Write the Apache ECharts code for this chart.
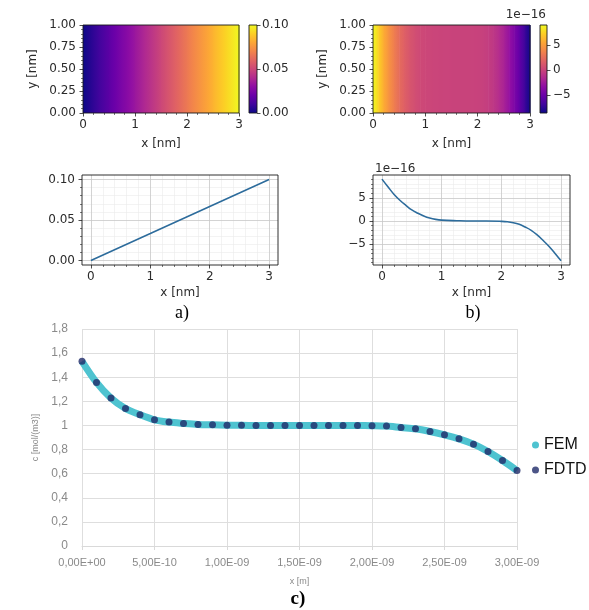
<!DOCTYPE html>
<html><head><meta charset="utf-8">
<script src="https://cdn.jsdelivr.net/npm/echarts@6/dist/echarts.min.js"></script>
<style>html,body{margin:0;padding:0;background:#fff}#c{width:589px;height:610px}</style>
</head><body><div id="c"></div>
<script>
// ---------- DATA ----------
// panel a: profile along x [nm]
const lineAX = [0, 0.5, 1, 1.5, 2, 2.5, 3];
const lineAY = [0, 0.0167, 0.0333, 0.05, 0.0667, 0.0833, 0.1];
// panel b: profile along x [nm], values in units of 1e-16
const lineBX = [0,0.1,0.2,0.3,0.4,0.5,0.6,0.7,0.8,0.9,1.0,1.25,1.5,1.75,2.0,2.1,2.2,2.3,2.4,2.5,2.6,2.7,2.8,2.9,3.0];
const lineBY = [9.06,7.4,5.8,4.5,3.4,2.4,1.7,1.1,0.65,0.36,0.2,0.07,0,0,-0.07,-0.15,-0.36,-0.72,-1.3,-2.0,-3.0,-4.2,-5.5,-7.0,-8.6];
// panel c: x in nm (axis labelled in m), concentration
const cXnm = [0,0.1,0.2,0.3,0.4,0.5,0.6,0.7,0.8,0.9,1.0,1.1,1.2,1.3,1.4,1.5,1.6,1.7,1.8,1.9,2.0,2.1,2.2,2.3,2.4,2.5,2.6,2.7,2.8,2.9,3.0];
const femC  = [1.532,1.357,1.227,1.141,1.089,1.047,1.028,1.017,1.008,1.005,1.002,1.001,1.0,1.0,1.0,1.0,1.0,1.0,1.0,0.999,0.998,0.995,0.983,0.972,0.950,0.922,0.889,0.845,0.784,0.709,0.626];
const fdtdC = [1.532,1.357,1.227,1.141,1.089,1.047,1.028,1.017,1.008,1.005,1.002,1.001,1.0,1.0,1.0,1.0,1.0,1.0,1.0,0.999,0.998,0.995,0.983,0.972,0.950,0.922,0.889,0.845,0.784,0.709,0.626];
const heatYExtent = [0, 1];
// tick values
const nmTicks = [0, 1, 2, 3];
const heatYTicks = [0, 0.25, 0.5, 0.75, 1];
const cbATicks = [0, 0.05, 0.1];
const cbBTicks = [-5, 0, 5];
const lineATicksY = [0, 0.05, 0.1];
const lineBTicksY = [-5, 0, 5];
const cXTicksNm = [0, 0.5, 1, 1.5, 2, 2.5, 3];
const cYTicks = [0, 0.2, 0.4, 0.6, 0.8, 1, 1.2, 1.4, 1.6, 1.8];

// ---------- helpers ----------
const PLASMA = ['#0d0887','#41049d','#6a00a8','#8f0da4','#b12a90','#cc4778','#e16462','#f2844b','#fca636','#fcce25','#f0f921'];
function hex2rgb(h){return [parseInt(h.substr(1,2),16),parseInt(h.substr(3,2),16),parseInt(h.substr(5,2),16)];}
const PL = PLASMA.map(hex2rgb);
function plasma(t){
  t = Math.max(0, Math.min(1, t));
  const f = t*(PL.length-1), i = Math.min(PL.length-2, Math.floor(f)), r = f-i;
  const c = PL[i].map((v,k)=>Math.round(v+(PL[i+1][k]-v)*r));
  return 'rgb('+c.join(',')+')';
}
const minus = s => String(s).replace('-', '\u2212');
function range(a, b, step){ const out=[]; for(let v=a; v<=b+1e-9; v+=step) out.push(Math.round(v*1e6)/1e6); return out; }
function excelExp(m){
  if (m === 0) return '0,00E+00';
  let e = Math.floor(Math.log10(Math.abs(m))); let mant = m/Math.pow(10,e);
  if (Math.round(mant*100)/100 >= 10){ mant/=10; e+=1; }
  if (Math.round(mant*100)/100 < 1){ mant*=10; e-=1; }
  return mant.toFixed(2).replace('.',',') + 'E' + (e<0?'-':'+') + String(Math.abs(e)).padStart(2,'0');
}

const FONT = 'DejaVu Sans';
const TXT = '#2b2b2b';
const tickStyle = {color:'#222', width:0.8};
function mplAxis(o){
  return Object.assign({
    type:'value', z:5,
    axisLine:{show:false, onZero:false}, splitLine:{show:false},
    axisTick:{show:true, inside:false, length:3.5, lineStyle:tickStyle},
    axisLabel:{fontFamily:FONT, fontSize:12, color:TXT, margin:6},
    nameTextStyle:{fontFamily:FONT, fontSize:12, color:TXT}
  }, o);
}
function minorAxis(o, vals){
  return Object.assign({
    type:'value', z:5, axisLine:{show:false, onZero:false}, splitLine:{show:false},
    axisLabel:{show:false},
    axisTick:{show:true, inside:false, length:2, customValues:vals, lineStyle:{color:'#222', width:0.6}}
  }, o);
}

function heatSeries(xi, yi, xs, vs, vmin, vmax){
  const data = xs.slice(0,-1).map((x,i)=>[x, xs[i+1], vs[i], vs[i+1]]);
  return {
    type:'custom', xAxisIndex:xi, yAxisIndex:yi, z:1, silent:true,
    encode:{x:[0,1]},
    data:data,
    renderItem:function(params, api){
      const x0=api.value(0), x1=api.value(1), v0=api.value(2), v1=api.value(3);
      const p0=api.coord([x0, heatYExtent[1]]), p1=api.coord([x1, heatYExtent[0]]);
      const stops=[];
      for(let k=0;k<=8;k++){ const v=v0+(v1-v0)*k/8; stops.push({offset:k/8, color:plasma((v-vmin)/(vmax-vmin))}); }
      return {type:'rect', shape:{x:p0[0], y:p0[1], width:p1[0]-p0[0]+0.6, height:p1[1]-p0[1]},
        style:{fill:new echarts.graphic.LinearGradient(0,0,1,0,stops)}};
    }
  };
}
function cbarSeries(xi, yi, vmin, vmax){
  return {
    type:'custom', xAxisIndex:xi, yAxisIndex:yi, z:1, silent:true,
    data:[[vmin, vmax]],
    renderItem:function(params, api){
      const lo=api.value(0), hi=api.value(1);
      const a=api.coord([0,hi]), b=api.coord([1,lo]);
      const stops=PLASMA.map((c,i)=>({offset:1-i/(PLASMA.length-1), color:c})).reverse();
      return {type:'rect', shape:{x:a[0], y:a[1], width:b[0]-a[0], height:b[1]-a[1]},
        style:{fill:new echarts.graphic.LinearGradient(0,0,0,1,stops)}};
    }
  };
}
function gridLines(xMaj, xMin, yMaj, yMin){
  const maj={color:'#c8c8c8', width:0.8, type:'solid'}, mn={color:'#ebebeb', width:0.6, type:'solid'};
  const d=[];
  xMin.forEach(v=>d.push({xAxis:v, lineStyle:mn}));
  yMin.forEach(v=>d.push({yAxis:v, lineStyle:mn}));
  xMaj.forEach(v=>d.push({xAxis:v, lineStyle:maj}));
  yMaj.forEach(v=>d.push({yAxis:v, lineStyle:maj}));
  return {z:1, silent:true, symbol:['none','none'], label:{show:false}, emphasis:{disabled:true}, animation:false, data:d};
}

const aMin = Math.min(...lineAY), aMax = Math.max(...lineAY);
const bMin = Math.min(...lineBY), bMax = Math.max(...lineBY);
const frame = {show:true, z:10, borderColor:'#1a1a1a', borderWidth:0.9, backgroundColor:'transparent'};

const xMinorNm = range(0, 3, 0.2).filter(v=>Math.abs(v-Math.round(v))>1e-6);
const yMinorA = range(0, 0.1, 0.01).filter(v=>Math.abs(v/0.05-Math.round(v/0.05))>1e-6);
const yMinorB = range(-9, 9, 1).filter(v=>v%5!==0);

const option = {
  animation:false,
  backgroundColor:'#fff',
  grid:[
    Object.assign({left:83, top:25, width:156, height:88}, frame),   // 0 heat a
    Object.assign({left:249, top:25, width:8, height:88}, frame),    // 1 cbar a
    Object.assign({left:373, top:25, width:157, height:88}, frame),  // 2 heat b
    Object.assign({left:540, top:25, width:7, height:88}, frame),    // 3 cbar b
    Object.assign({left:82, top:175, width:196, height:90}, frame),  // 4 line a
    Object.assign({left:373, top:175, width:197, height:90}, frame), // 5 line b
    {left:82, top:329, width:435, height:217, show:false}            // 6 c
  ],
  xAxis:[
    mplAxis({gridIndex:0, min:0, max:3, interval:1, name:'x [nm]', nameLocation:'middle', nameGap:25,
      minorTick:{show:true, splitNumber:5, length:2, lineStyle:{color:'#222', width:0.6}}}),
    {type:'value', gridIndex:1, min:0, max:1, show:false},
    mplAxis({gridIndex:2, min:0, max:3, interval:1, name:'x [nm]', nameLocation:'middle', nameGap:25,
      minorTick:{show:true, splitNumber:5, length:2, lineStyle:{color:'#222', width:0.6}}}),
    {type:'value', gridIndex:3, min:0, max:1, show:false},
    mplAxis({gridIndex:4, min:-0.15, max:3.15, name:'x [nm]', nameLocation:'middle', nameGap:22,
      axisLabel:{fontFamily:FONT, fontSize:12, color:TXT, margin:6, customValues:nmTicks},
      axisTick:{show:true, inside:false, length:3.5, lineStyle:tickStyle, customValues:nmTicks}}),
    minorAxis({gridIndex:4, min:-0.15, max:3.15, position:'bottom'}, xMinorNm),
    mplAxis({gridIndex:5, min:-0.15, max:3.15, name:'x [nm]', nameLocation:'middle', nameGap:22,
      axisLabel:{fontFamily:FONT, fontSize:12, color:TXT, margin:6, customValues:nmTicks},
      axisTick:{show:true, inside:false, length:3.5, lineStyle:tickStyle, customValues:nmTicks}}),
    minorAxis({gridIndex:5, min:-0.15, max:3.15, position:'bottom'}, xMinorNm),
    {type:'value', gridIndex:6, min:0, max:3, interval:0.5,
      axisLine:{show:true, onZero:false, lineStyle:{color:'#d9d9d9'}},
      axisTick:{show:true, length:4, lineStyle:{color:'#d9d9d9'}},
      splitLine:{show:true, lineStyle:{color:'#dedede', width:1}},
      axisLabel:{fontFamily:'Liberation Sans', fontSize:11, color:'#8a8a8a', margin:11, customValues:cXTicksNm,
        formatter:v=>excelExp(v*1e-9)},
      name:'x [m]', nameLocation:'middle', nameGap:31,
      nameTextStyle:{fontFamily:'Liberation Sans', fontSize:9, color:'#8a8a8a'}}
  ],
  yAxis:[
    mplAxis({gridIndex:0, min:0, max:1, interval:0.25, name:'y [nm]', nameLocation:'middle', nameGap:44,
      axisLabel:{fontFamily:FONT, fontSize:12, color:TXT, margin:7, formatter:v=>v.toFixed(2)},
      minorTick:{show:true, splitNumber:5, length:2, lineStyle:{color:'#222', width:0.6}}}),
    mplAxis({gridIndex:1, min:aMin, max:aMax, interval:0.05, position:'right',
      axisLabel:{fontFamily:FONT, fontSize:12, color:TXT, margin:5, formatter:v=>v.toFixed(2)}}),
    mplAxis({gridIndex:2, min:0, max:1, interval:0.25, name:'y [nm]', nameLocation:'middle', nameGap:44,
      axisLabel:{fontFamily:FONT, fontSize:12, color:TXT, margin:7, formatter:v=>v.toFixed(2)},
      minorTick:{show:true, splitNumber:5, length:2, lineStyle:{color:'#222', width:0.6}}}),
    mplAxis({gridIndex:3, min:bMin, max:bMax, position:'right',
      axisLabel:{fontFamily:FONT, fontSize:12, color:TXT, margin:6, customValues:cbBTicks, formatter:v=>minus(v)},
      axisTick:{show:true, inside:false, length:3.5, lineStyle:tickStyle, customValues:cbBTicks}}),
    mplAxis({gridIndex:4, min:-0.0055, max:0.1055,
      axisLabel:{fontFamily:FONT, fontSize:12, color:TXT, margin:7, customValues:lineATicksY, formatter:v=>v.toFixed(2)},
      axisTick:{show:true, inside:false, length:3.5, lineStyle:tickStyle, customValues:lineATicksY}}),
    minorAxis({gridIndex:4, min:-0.0055, max:0.1055, position:'left'}, yMinorA),
    mplAxis({gridIndex:5, min:-9.5, max:9.95,
      axisLabel:{fontFamily:FONT, fontSize:12, color:TXT, margin:7, customValues:lineBTicksY, formatter:v=>minus(v)},
      axisTick:{show:true, inside:false, length:3.5, lineStyle:tickStyle, customValues:lineBTicksY}}),
    minorAxis({gridIndex:5, min:-9.5, max:9.95, position:'left'}, yMinorB),
    {type:'value', gridIndex:6, min:0, max:1.8, interval:0.2,
      axisLine:{show:false}, axisTick:{show:false},
      splitLine:{show:true, lineStyle:{color:'#dedede', width:1}},
      axisLabel:{fontFamily:'Liberation Sans', fontSize:12, color:'#8a8a8a', margin:14,
        formatter:v=>String(Math.round(v*10)/10).replace('.',',')},
      name:'c [mol/(m3)]', nameLocation:'middle', nameGap:41,
      nameTextStyle:{fontFamily:'Liberation Sans', fontSize:9, color:'#8a8a8a'}}
  ],
  legend:{
    orient:'vertical', left:527, top:432, itemWidth:7, itemHeight:7, itemGap:9,
    textStyle:{fontFamily:'Liberation Sans', fontSize:16, color:'#111'},
    data:[{name:'FEM', icon:'circle'}, {name:'FDTD', icon:'circle'}]
  },
  series:[
    heatSeries(0, 0, lineAX, lineAY, aMin, aMax),
    cbarSeries(1, 1, aMin, aMax),
    heatSeries(2, 2, lineBX, lineBY, bMin, bMax),
    cbarSeries(3, 3, bMin, bMax),
    {type:'line', xAxisIndex:4, yAxisIndex:4, z:3, showSymbol:false, silent:true,
      data:lineAX.map((x,i)=>[x, lineAY[i]]),
      lineStyle:{color:'#2d6c9c', width:1.6},
      markLine:gridLines(nmTicks, xMinorNm, lineATicksY, yMinorA)},
    {type:'line', xAxisIndex:6, yAxisIndex:6, z:3, showSymbol:false, silent:true, smooth:0.4,
      data:lineBX.map((x,i)=>[x, lineBY[i]]),
      lineStyle:{color:'#2d6c9c', width:1.6},
      markLine:gridLines(nmTicks, xMinorNm, lineBTicksY, yMinorB)},
    {name:'FEM', type:'line', xAxisIndex:8, yAxisIndex:8, z:3, showSymbol:false, smooth:0.3,
      data:cXnm.map((x,i)=>[x, femC[i]]),
      itemStyle:{color:'#4ec3d0'}, lineStyle:{color:'#4ec3d0', width:7}},
    {name:'FDTD', type:'scatter', xAxisIndex:8, yAxisIndex:8, z:4, symbolSize:7,
      data:cXnm.map((x,i)=>[x, fdtdC[i]]),
      itemStyle:{color:'#1f2b69'}}
  ],
  graphic:[
    {type:'text', x:546, y:21, style:{text:'1e\u221216', font:'12px "DejaVu Sans"', fill:TXT, align:'right', verticalAlign:'bottom'}},
    {type:'text', x:375, y:169, style:{text:'1e\u221216', font:'12px "DejaVu Sans"', fill:TXT, align:'left', verticalAlign:'middle'}},
    {type:'text', x:182, y:313, style:{text:'a)', font:'18px "Liberation Serif"', fill:'#000', align:'center', verticalAlign:'middle'}},
    {type:'text', x:473, y:313, style:{text:'b)', font:'18px "Liberation Serif"', fill:'#000', align:'center', verticalAlign:'middle'}},
    {type:'text', x:298, y:599, style:{text:'c)', font:'bold 19px "Liberation Serif"', fill:'#000', align:'center', verticalAlign:'middle'}}
  ]
};
const chart = echarts.init(document.getElementById('c'), null, {renderer:'canvas'});
chart.setOption(option);
</script></body></html>
